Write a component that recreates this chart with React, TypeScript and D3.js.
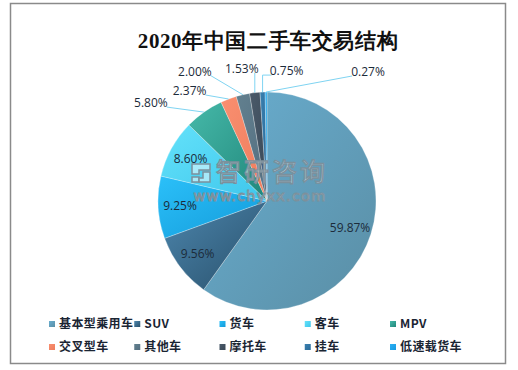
import React from "react";
import * as d3 from "d3";

// 2020年中国二手车交易结构 (%)
const categories = ["基本型乘用车", "SUV", "货车", "客车", "MPV", "交叉型车", "其他车", "摩托车", "挂车", "低速载货车"];
const shares = [59.87, 9.56, 9.25, 8.6, 5.8, 2.37, 2.0, 1.53, 0.75, 0.27];
const labels = ["59.87%", "9.56%", "9.25%", "8.60%", "5.80%", "2.37%", "2.00%", "1.53%", "0.75%", "0.27%"];

// colour pairs: light -> dark
const colorsLight = ["#69aed0", "#4d86ad", "#2bc0f9", "#64e2fa", "#46b9a9", "#f98f70", "#62808f", "#4a5a6a", "#3a80b0", "#2cb0f5"];
const colorsDark = ["#5a8ea5", "#28506b", "#139ad9", "#3ec6ec", "#20867a", "#ee7c5c", "#546e80", "#3a4856", "#2a6a98", "#189ae0"];

// outside labels: text offset from the slice edge, and whether leader bends
const outsideLayout: Record<string, { dx: number; dy: number; elbow: boolean }> = {
  MPV: { dx: -53, dy: -9, elbow: false },
  交叉型车: { dx: -39, dy: -8, elbow: false },
  其他车: { dx: -48, dy: -23, elbow: false },
  摩托车: { dx: -13, dy: -24, elbow: true },
  挂车: { dx: 24, dy: -21, elbow: true },
  低速载货车: { dx: 102, dy: -20, elbow: false },
};

const W = 518;
const H = 370;
const cx = 267;
const cy = 201;
const R = 109;

export default function App() {
  const data = categories.map((c, i) => ({ name: c, value: shares[i], label: labels[i], i }));
  const pie = d3.pie<any>().value((d) => d.value).sort(null);
  const arcs = pie(data);
  const arc = d3.arc<any>().innerRadius(0).outerRadius(R);
  const labelArc = d3.arc<any>().innerRadius(R * 0.8).outerRadius(R * 0.8);
  const edgeArc = d3.arc<any>().innerRadius(R).outerRadius(R);

  const legendX = d3.scalePoint<number>().domain([0, 1, 2, 3, 4]).range([49, 390]);
  const legendY = d3.scalePoint<number>().domain([0, 1]).range([324, 347]);

  const labelFont = "'Open Sans', 'Noto Sans', sans-serif";
  const wmFill = "rgba(255,255,255,0.5)";
  const wmStroke = "#7c909c";

  return (
    <svg width={W} height={H} style={{ position: "fixed", left: 0, top: 0, background: "#fff" }}>
      <defs>
        {data.map((d) => (
          <linearGradient key={d.i} id={"g" + d.i} x1="0" y1="0" x2="1" y2="1">
            <stop offset="0" stopColor={colorsLight[d.i]} />
            <stop offset="1" stopColor={colorsDark[d.i]} />
          </linearGradient>
        ))}
      </defs>
      <rect x={10.5} y={3.5} width={495} height={360} fill="#fff" stroke="#8a8a8a" strokeWidth={1.5} />
      <text
        x={268}
        y={48}
        textAnchor="middle"
        fontFamily="'Liberation Serif', 'DejaVu Serif', serif"
        fontWeight="bold"
        fontSize={21}
        letterSpacing={0.6}
        fill="#111"
      >
        2020年中国二手车交易结构
      </text>

      <g transform={`translate(${cx},${cy})`}>
        {arcs.map((a) => (
          <path key={a.data.i} d={arc(a) || ""} fill={`url(#g${a.data.i})`} stroke="rgba(255,255,255,0.45)" strokeWidth={0.6} />
        ))}
        {arcs.map((a) => {
          const lay = outsideLayout[a.data.name];
          if (!lay) {
            const [x, y] = labelArc.centroid(a);
            return (
              <text key={a.data.i} x={x} y={y} dy="0.35em" textAnchor="middle" fontFamily={labelFont} fontSize={12} fill="#1c2b3a">
                {a.data.label}
              </text>
            );
          }
          const [ex, ey] = edgeArc.centroid(a);
          const tx = ex + lay.dx;
          const ty = ey + lay.dy;
          const half = 15;
          const ly = ty + 4;
          let pts: [number, number][];
          if (lay.elbow) {
            const endX = lay.dx < 0 ? ex : tx - half;
            pts = [[ex, ey], [ex, ly], [endX, ly]];
          } else {
            const endX = lay.dx < 0 ? tx + half + 1 : tx - half - 1;
            pts = [[ex, ey], [endX, ly]];
          }
          return (
            <g key={a.data.i}>
              <polyline points={pts.map((p) => p.join(",")).join(" ")} fill="none" stroke="#7fd4f2" strokeWidth={1} />
              <text x={tx} y={ty} dy="0.35em" textAnchor="middle" fontFamily={labelFont} fontSize={12} fill="#1c2b3a">
                {a.data.label}
              </text>
            </g>
          );
        })}
      </g>

      {/* watermark */}
      <g>
        <g fill={wmFill} stroke={wmStroke} strokeWidth={1.5}>
          <path d="M192,164 h18 v6 h-11 v4 h-7 z" />
          <path d="M192,177 h7 v5 h-7 z" />
          <path d="M203,172 h7 v10 h-11 v-4 h4 z" />
        </g>
        <text
          x={272}
          y={181}
          textAnchor="middle"
          fontFamily="'Noto Sans CJK SC', sans-serif"
          fontSize={25}
          letterSpacing={3}
          fill={wmFill}
          stroke={wmStroke}
          strokeWidth={1.3}
        >
          智研咨询
        </text>
        <text
          x={260}
          y={201}
          textAnchor="middle"
          fontFamily="'DejaVu Sans', sans-serif"
          fontSize={14.5}
          letterSpacing={1.2}
          fill={wmFill}
          stroke={wmStroke}
          strokeWidth={1}
        >
          www.chyxx.com
        </text>
      </g>

      {/* legend */}
      {data.map((d) => {
        const col = d.i % 5;
        const row = Math.floor(d.i / 5);
        const x = legendX(col) || 0;
        const y = legendY(row) || 0;
        return (
          <g key={d.i}>
            <rect x={x} y={y - 3} width={6} height={6} fill={`url(#g${d.i})`} />
            <text
              x={x + 10}
              y={y}
              dy="0.35em"
              fontFamily="'Noto Sans CJK SC', sans-serif"
              fontWeight="bold"
              fontSize={12}
              letterSpacing={0.4}
              fill="#1a2533"
            >
              {d.name}
            </text>
          </g>
        );
      })}
    </svg>
  );
}
